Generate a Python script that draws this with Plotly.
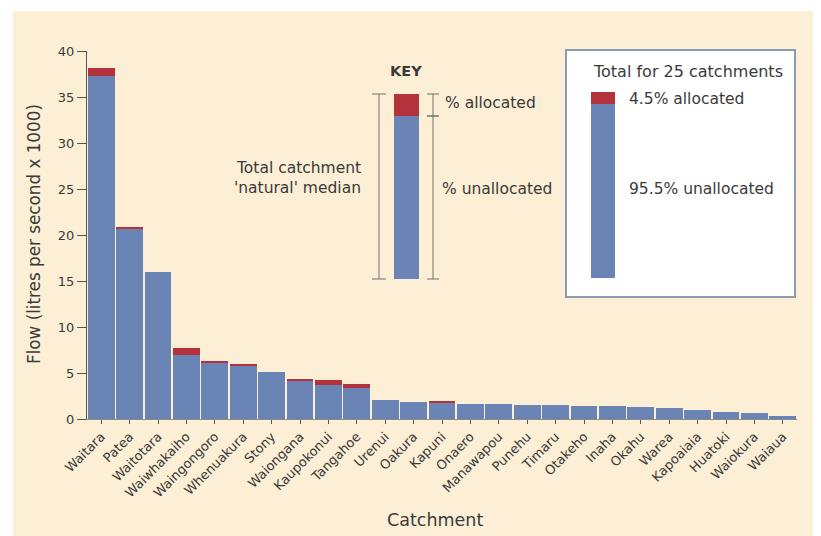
import plotly.graph_objects as go

catchments = ["Waitara", "Patea", "Waitotara", "Waiwhakaiho", "Waingongoro", "Whenuakura",
              "Stony", "Waiongana", "Kaupokonui", "Tangahoe", "Urenui", "Oakura", "Kapuni",
              "Onaero", "Manawapou", "Punehu", "Timaru", "Otakeho", "Inaha", "Okahu",
              "Warea", "Kapoaiaia", "Huatoki", "Waiokura", "Waiaua"]
unallocated = [37.3, 20.6, 16.0, 7.0, 6.1, 5.8, 5.1, 4.2, 3.7, 3.4, 2.1, 1.9, 1.75,
               1.6, 1.6, 1.55, 1.5, 1.45, 1.4, 1.35, 1.2, 0.95, 0.75, 0.65, 0.3]
allocated = [0.8, 0.3, 0.0, 0.7, 0.15, 0.1, 0.0, 0.05, 0.5, 0.4, 0.0, 0.0, 0.2,
             0.0, 0.0, 0.0, 0.0, 0.0, 0.0, 0.0, 0.0, 0.0, 0.0, 0.0, 0.0]
y_ticks = [0, 5, 10, 15, 20, 25, 30, 35, 40]

BLUE = "#6a84b6"
RED = "#b3323c"
CREAM = "#fcefd5"
TXT = "#3a3a3a"
FONT = "DejaVu Sans"

fig = go.Figure()
fig.add_bar(x=catchments, y=unallocated, marker=dict(color=BLUE, line=dict(width=0)), name="unallocated")
fig.add_bar(x=catchments, y=allocated, marker=dict(color=RED, line=dict(width=0)), name="allocated")

OFF = 8  # page body margin
FW, FH = 821 - OFF, 536 - OFF
L, R, T, B = 87, 797, 51, 419  # plot area in page pixels
W, H = R - L, B - T


def px(x):
    return (x - L) / W


def py(y):
    return (B - y) / H


shapes = []
line_col = "#707070"

# cream backdrop (page coords 13,11 -> 821,536)
shapes.append(dict(type="rect", xref="paper", yref="paper", x0=px(13), x1=px(822), y0=py(537), y1=py(11),
                   fillcolor=CREAM, line=dict(width=0), layer="below"))


def vline(x, y0, y1, cap=6):
    shapes.append(dict(type="line", xref="paper", yref="paper", x0=px(x), x1=px(x), y0=py(y0), y1=py(y1),
                       line=dict(color=line_col, width=1)))
    for yy in (y0, y1):
        shapes.append(dict(type="line", xref="paper", yref="paper", x0=px(x - cap), x1=px(x + cap),
                           y0=py(yy), y1=py(yy), line=dict(color=line_col, width=1)))


def rect(x0, y0, x1, y1, color, line=None):
    shapes.append(dict(type="rect", xref="paper", yref="paper", x0=px(x0), x1=px(x1), y0=py(y1), y1=py(y0),
                       fillcolor=color, line=line or dict(width=0), layer="above"))


# Key
vline(379, 94, 279, cap=7)
rect(394, 94, 419, 279, BLUE)
rect(394, 94, 419, 116, RED)
vline(433, 94, 116, cap=6)
vline(433, 116, 279, cap=6)

# Total box
shapes.append(dict(type="rect", xref="paper", yref="paper", x0=px(566), x1=px(795), y0=py(297), y1=py(50),
                   fillcolor="white", line=dict(color="#8c9bb3", width=2), layer="above"))
rect(591, 92, 615, 278, BLUE)
rect(591, 92, 615, 104, RED)

ann = []


def text(x, y, s, xanchor="left", size=15.5, bold=False, angle=0):
    ann.append(dict(xref="paper", yref="paper", x=px(x), y=py(y), text=(f"<b>{s}</b>" if bold else s),
                    showarrow=False, xanchor=xanchor, yanchor="middle", textangle=angle,
                    font=dict(family=FONT, size=size, color=TXT)))


text(406, 71, "KEY", xanchor="center", size=14.5, bold=True)
text(443, 103, "% allocated")
text(440, 189, "% unallocated")
text(363, 168, "Total catchment", xanchor="right")
text(363, 188, "'natural' median", xanchor="right")
text(688, 72, "Total for 25 catchments", xanchor="center", size=16)
text(627, 99, "4.5% allocated")
text(627, 189, "95.5% unallocated")
# axis titles
text(435, 520, "Catchment", xanchor="center", size=17.5)
text(34, 234, "Flow (litres per second x 1000)", xanchor="center", size=16.8, angle=-90)

fig.update_layout(
    barmode="stack",
    bargap=0.06,
    width=FW, height=FH,
    margin=dict(l=L - OFF, r=FW - (R - OFF), t=T - OFF, b=FH - (B - OFF), autoexpand=False),
    paper_bgcolor="white",
    plot_bgcolor="white",
    showlegend=False,
    font=dict(family=FONT, color=TXT),
    shapes=shapes,
    annotations=ann,
    xaxis=dict(
        tickangle=-45, tickfont=dict(size=13, color=TXT), ticks="outside", ticklen=4,
        tickcolor="#555", showline=True, linecolor="#888", linewidth=1,
        range=[-0.5, len(catchments) - 0.5],
    ),
    yaxis=dict(
        range=[0, 40], tickvals=y_ticks, ticks="outside", ticklen=9, tickcolor="#555",
        tickfont=dict(size=13, color=TXT), showgrid=False, zeroline=False,
        showline=True, linecolor="#555", linewidth=1,
    ),
)

fig.write_html("out.html")
